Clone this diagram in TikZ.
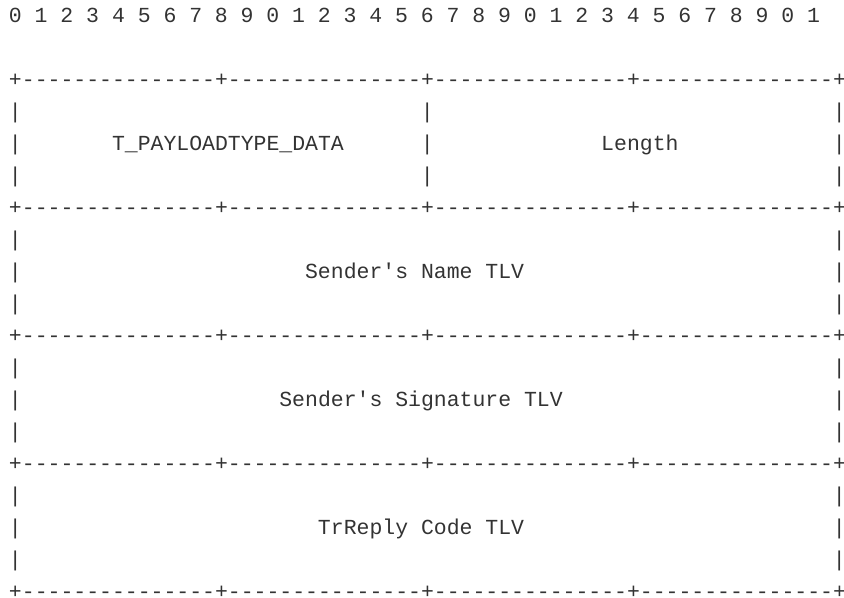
\documentclass[tikz,border=0pt]{standalone}
\usepackage{fontspec}
\setmonofont{Liberation Mono}
\definecolor{ink}{HTML}{333333}
\tikzset{
  asc/.style={font=\ttfamily\fontsize{10.73pt}{13pt}\selectfont, text=ink, inner sep=0pt, anchor=base west},
}

\begin{document}
\begin{tikzpicture}[x=6.4375pt,y=-16pt]
  \useasboundingbox (-0.668,-0.71875) rectangle (64.886,17.96875);
  % bit numbers
  \foreach \k in {0,...,31}{
    \pgfmathtruncatemacro{\d}{mod(\k,10)}
    \node[asc] (h\k) at (2*\k,0) {\d};
  }
  % border lines
  \foreach \b/\row in {0/2,1/6,2/10,3/14,4/18}
    \node[asc] (b\b) at (0,\row) {+---------------+---------------+---------------+---------------+};
  % side bars
  \foreach \row in {3,4,5,7,8,9,11,12,13,15,16,17}{
    \node[asc] (l\row) at (0,\row) {|};
    \node[asc] (r\row) at (64,\row) {|};
  }
  \foreach \row in {3,4,5}
    \node[asc] (m\row) at (32,\row) {|};
  % fields
  \node[asc] (payload) at (8,4) {T\_PAYLOADTYPE\_DATA};
  \node[asc] (length) at (46,4) {Length};
  \node[asc] (name) at (23,8) {Sender's Name TLV};
  \node[asc] (sig) at (21,12) {Sender's Signature TLV};
  \node[asc] (code) at (24,16) {TrReply Code TLV};
\end{tikzpicture}
\end{document}
